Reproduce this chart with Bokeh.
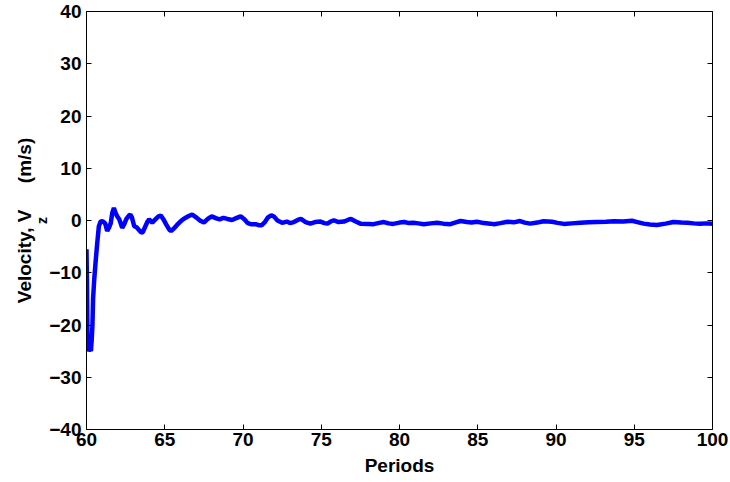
from bokeh.plotting import figure
from bokeh.models import Range1d, LinearAxis, FixedTicker, CustomJSTickFormatter, Title
from bokeh.embed import file_html
from bokeh.resources import INLINE

# ---- data ----
periods = [60.0, 60.03, 60.06, 60.1, 60.15, 60.22, 60.28, 60.33, 60.38, 60.42, 60.5, 60.58, 60.68,
           60.79, 60.9, 61.0, 61.1, 61.2, 61.32, 61.45, 61.55, 61.65, 61.75, 61.85, 61.96, 62.1,
           62.28, 62.4, 62.55, 62.7, 62.8, 62.9, 63.05, 63.2, 63.35, 63.5, 63.6, 63.75, 63.9, 64.0,
           64.2, 64.4, 64.6, 64.75, 64.9, 65.1, 65.3, 65.4, 65.6, 65.8, 66.0, 66.2, 66.5, 66.75,
           67.0, 67.25, 67.5, 67.75, 68.0, 68.3, 68.5, 68.75, 69.0, 69.3, 69.6, 69.85, 70.1, 70.3,
           70.5, 70.8, 71.0, 71.2, 71.4, 71.6, 71.8, 72.0, 72.2, 72.5, 72.8, 73.0, 73.25, 73.5,
           73.7, 74.0, 74.3, 74.6, 74.95, 75.2, 75.4, 75.6, 75.8, 76.1, 76.45, 76.7, 76.9, 77.2,
           77.5, 78.0, 78.35, 78.7, 79.0, 79.3, 79.6, 80.0, 80.3, 80.6, 80.9, 81.2, 81.55, 82.0,
           82.4, 82.8, 83.25, 83.6, 83.9, 84.3, 84.6, 84.95, 85.4, 85.8, 86.05, 86.45, 86.9, 87.3,
           87.7, 88.0, 88.35, 88.8, 89.2, 89.75, 90.1, 90.5, 91.0, 91.55, 92.1, 92.6, 93.2, 93.7,
           94.3, 94.85, 95.2, 95.6, 96.0, 96.45, 97.0, 97.5, 98.0, 98.4, 98.8, 99.2, 99.6, 100.0]
velocity = [-5.5, -12.0, -22.0, -24.0, -25.0, -24.5, -25.0, -23.0, -20.0, -15.0, -11.0, -8.0, -4.5,
            -1.1, -0.2, -0.1, -0.3, -0.6, -2.0, -1.3, -0.5, 1.5, 2.4, 1.5, 0.8, 0.2,
            -1.4, -0.8, 0.3, 0.9, 1.15, 0.6, -1.1, -1.3, -1.8, -2.3, -2.2, -1.2, -0.2, 0.2,
            -0.4, 0.2, 0.8, 0.95, 0.3, -0.8, -1.8, -2.0, -1.5, -0.8, -0.2, 0.3, 0.8, 1.15,
            0.6, 0.0, -0.4, 0.3, 0.8, 0.4, 0.2, 0.5, 0.3, 0.1, 0.5, 0.8, 0.2, -0.5,
            -0.7, -0.7, -0.9, -0.9, -0.3, 0.6, 1.0, 0.7, 0.0, -0.45, -0.2, -0.5, -0.3, 0.1,
            0.3, -0.3, -0.6, -0.3, -0.2, -0.5, -0.6, -0.2, 0.05, -0.3, -0.2, 0.1, 0.3, -0.2,
            -0.6, -0.65, -0.7, -0.45, -0.3, -0.55, -0.65, -0.4, -0.3, -0.5, -0.45, -0.55, -0.7, -0.55,
            -0.45, -0.6, -0.7, -0.35, -0.1, -0.3, -0.4, -0.25, -0.5, -0.6, -0.7, -0.5, -0.25, -0.35,
            -0.1, -0.4, -0.6, -0.4, -0.15, -0.25, -0.45, -0.65, -0.55, -0.45, -0.35, -0.3, -0.25, -0.15,
            -0.2, -0.05, -0.3, -0.6, -0.75, -0.85, -0.6, -0.3, -0.4, -0.45, -0.55, -0.6, -0.55, -0.6]

x_ticks = [60, 65, 70, 75, 80, 85, 90, 95, 100]
y_ticks = [-40, -30, -20, -10, 0, 10, 20, 30, 40]
x_label = "Periods"
y_label_main = "Velocity, V\u00a0\u00a0\u00a0\u00a0\u00a0(m/s)"
y_label_sub = "z"

FONT = "Liberation Sans"
FS = "19px"

FL, FR, FT, FB = 86, 712, 11, 429

p = figure(width=730, height=482, output_backend="svg", toolbar_location=None,
           x_range=Range1d(60, 100), y_range=Range1d(-40, 40),
           min_border_left=FL, min_border_right=730 - FR, min_border_top=FT,
           min_border_bottom=482 - FB, x_axis_label=x_label)
p.grid.visible = False
p.outline_line_color = None
p.background_fill_color = "white"
p.border_fill_color = "white"

p.line(periods, velocity, line_color="#0000FF", line_width=4.5)

for ax in p.xaxis:
    ax.ticker = FixedTicker(ticks=x_ticks)
    ax.major_label_standoff = 3
    ax.axis_label_standoff = 6
for ax in p.yaxis:
    ax.ticker = FixedTicker(ticks=y_ticks)
    ax.major_label_standoff = 5
for ax in list(p.xaxis) + list(p.yaxis):
    ax.axis_line_color = "black"
    ax.major_tick_line_color = "black"
    ax.major_tick_in = 5
    ax.major_tick_out = 0
    ax.minor_tick_line_color = None
    ax.major_label_text_font = FONT
    ax.major_label_text_font_style = "bold"
    ax.major_label_text_font_size = FS
    ax.major_label_text_color = "black"
    ax.axis_label_text_font = FONT
    ax.axis_label_text_font_style = "bold"
    ax.axis_label_text_font_size = FS
    ax.axis_label_text_color = "black"

blank = CustomJSTickFormatter(code="return ''")
top = LinearAxis(ticker=FixedTicker(ticks=x_ticks), formatter=blank)
right = LinearAxis(ticker=FixedTicker(ticks=y_ticks), formatter=blank)
for ax in (top, right):
    ax.axis_line_color = "black"
    ax.major_tick_line_color = "black"
    ax.major_tick_in = 5
    ax.major_tick_out = 0
    ax.minor_tick_line_color = None
    ax.major_label_text_font_size = "0px"
    ax.major_label_standoff = 0
p.add_layout(top, "above")
p.add_layout(right, "right")

# y label: subscript strip next to the tick labels, main text strip further out
p.add_layout(Title(text=y_label_sub, align="center", offset=21, standoff=-6,
                   text_font=FONT, text_font_style="bold", text_font_size="14px",
                   text_color="black"), "left")
p.add_layout(Title(text=y_label_main, align="center", offset=-4, standoff=0,
                   text_font=FONT, text_font_style="bold", text_font_size=FS,
                   text_color="black"), "left")

open("out.html", "w").write(file_html(p, INLINE))
